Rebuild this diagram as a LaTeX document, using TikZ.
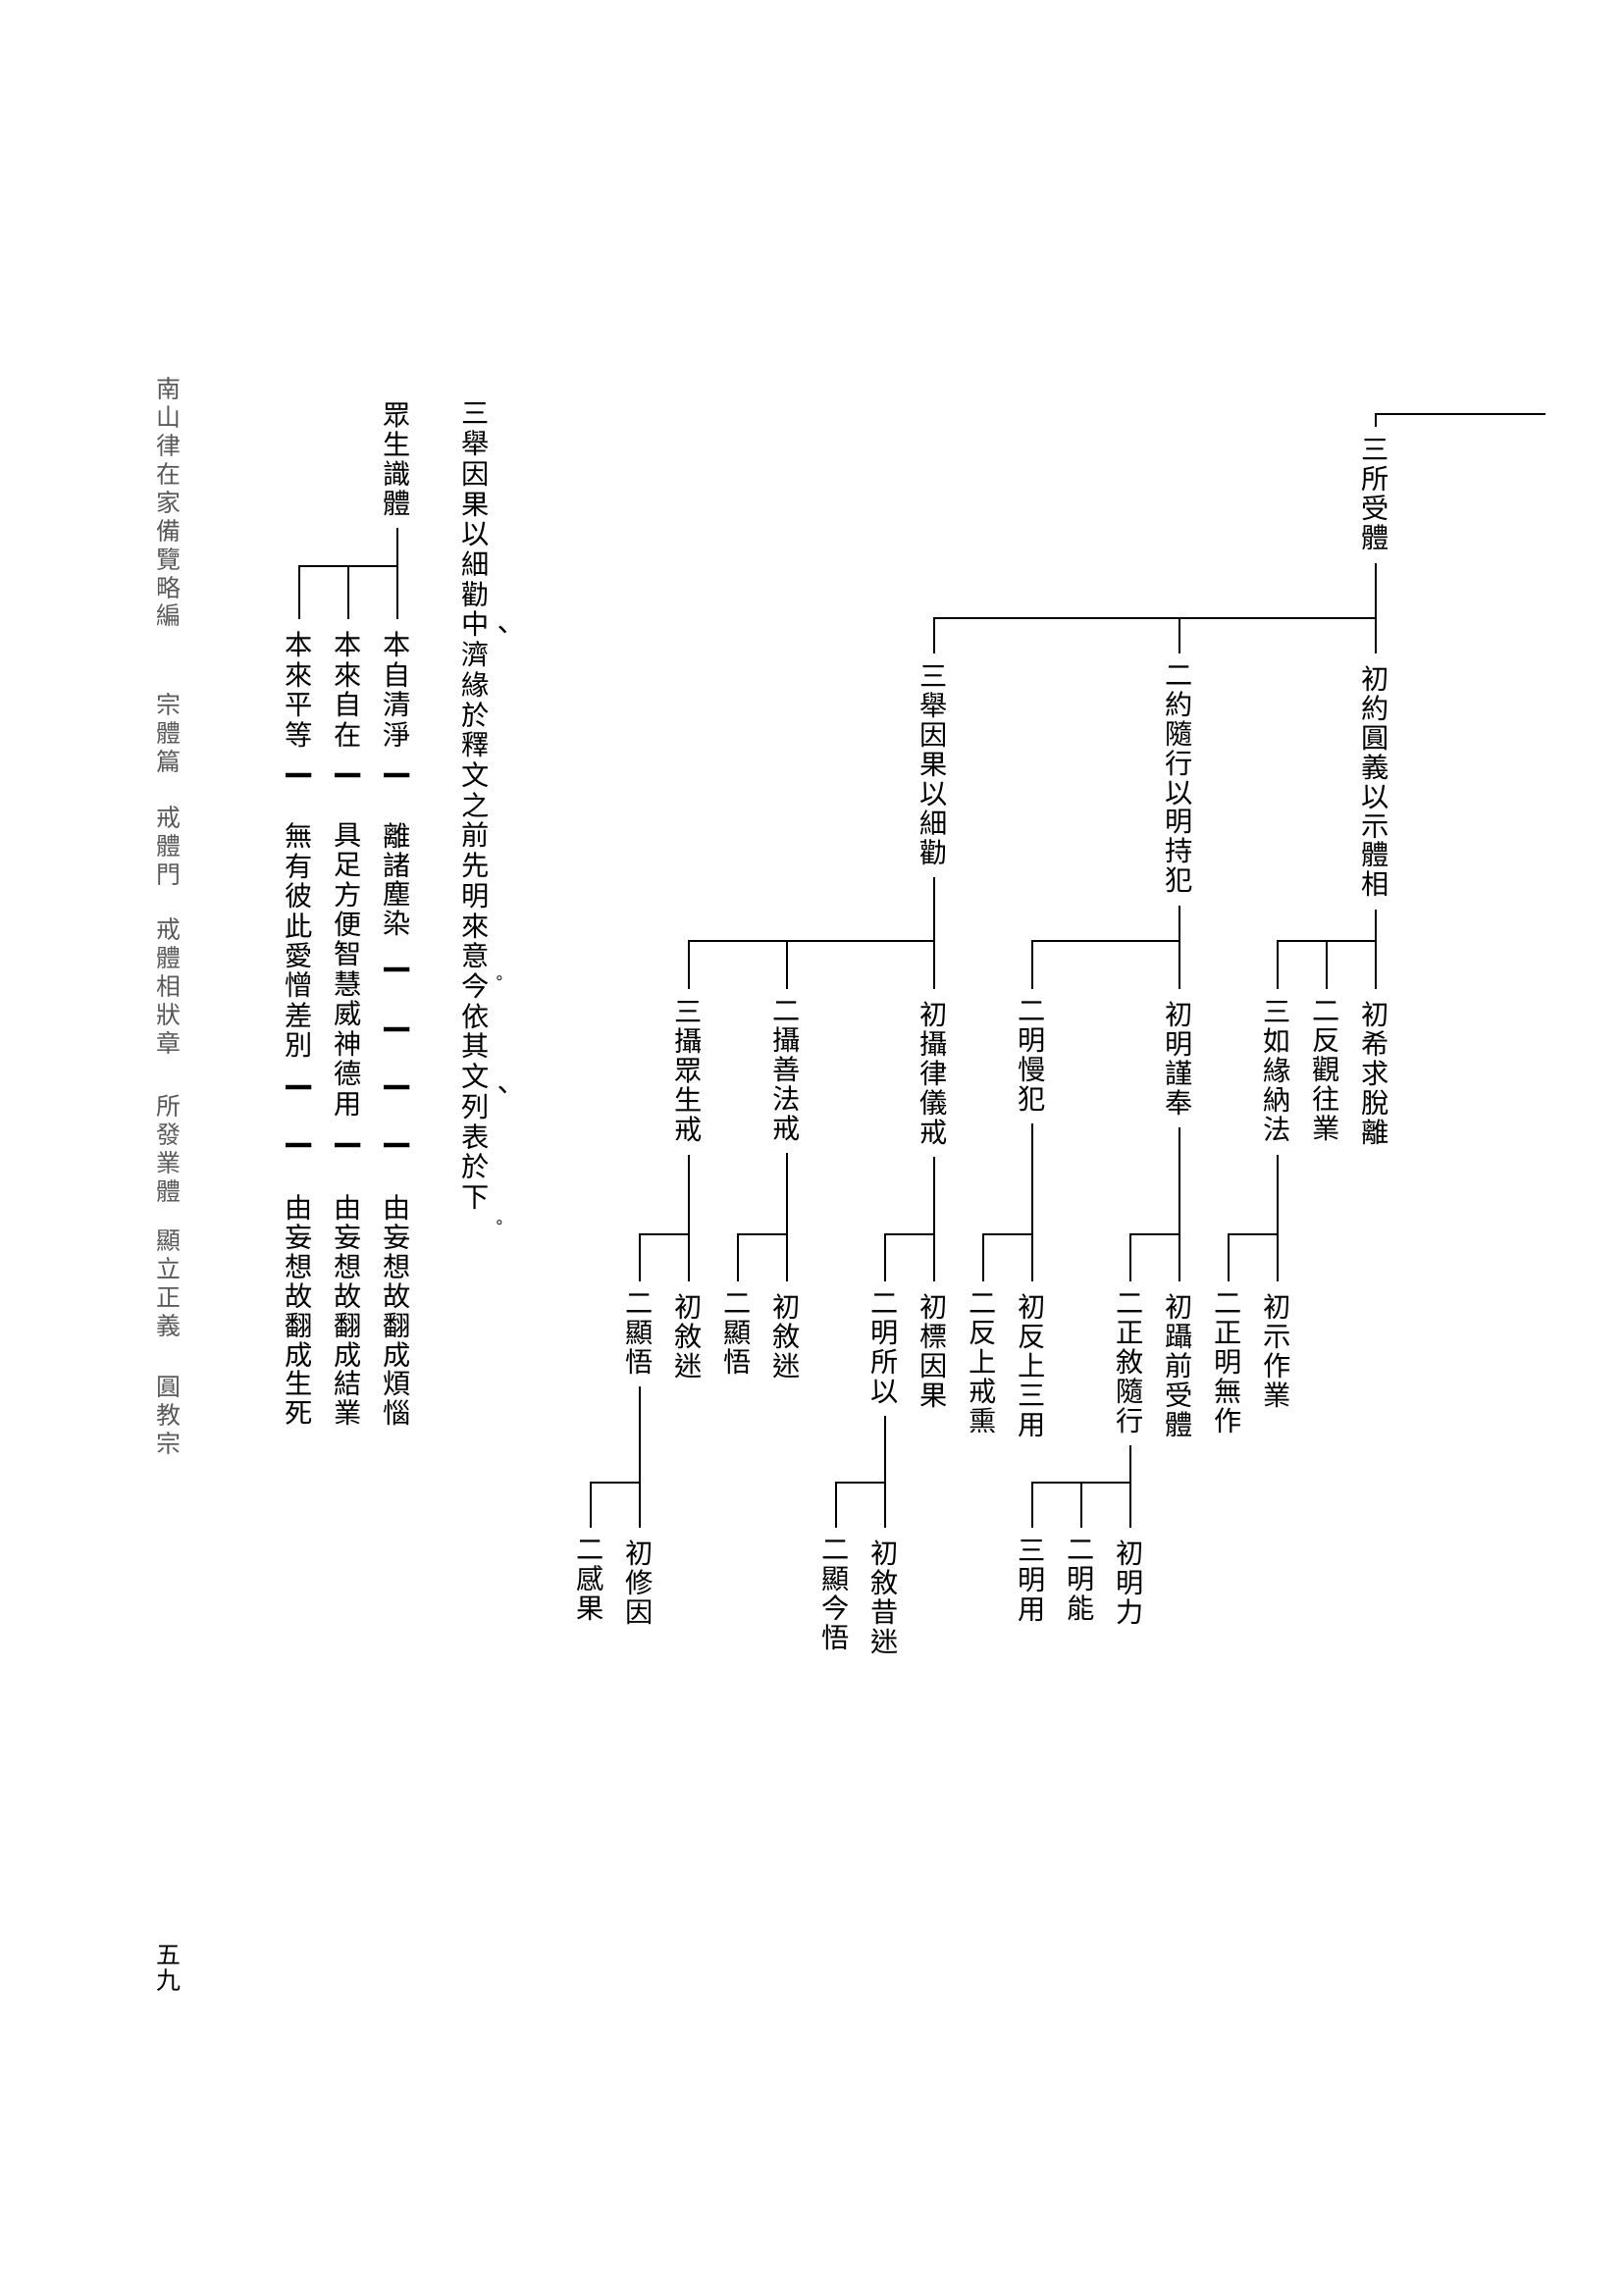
\documentclass[tikz,border=0pt]{standalone}
\usepackage{fontspec}
\newfontfamily\cjk{Noto Sans CJK TC}
\usepackage{tikz}
\definecolor{footgray}{gray}{0.35}
% one character per line, top to bottom
\def\vtextend{}
\def\vtextstep#1{\ifx#1\vtextend\else\hbox to 1em{\hss#1\hss}\expandafter\vtextstep\fi}
\newcommand\vtext[1]{\vbox{\lineskiplimit=-\maxdimen\lineskip=0pt\vtextstep#1\vtextend}}

\begin{document}
\begin{tikzpicture}[x=0.127mm, y=-0.127mm, line width=0.7pt,
    lbl/.style={font=\cjk\fontsize{10.2}{#1}\selectfont, inner xsep=0pt, inner ysep=4.3pt, anchor=north},
    lbl/.default=10.8pt]
    \tikzstyle{bar}=[font=\cjk\bfseries\fontsize{10.2}{10.8}\selectfont, inner sep=0pt]
    \tikzstyle{punct}=[font=\cjk\fontsize{10.2}{10.8}\selectfont, inner sep=0pt]
    \tikzstyle{foot}=[lbl=10.44pt, font=\cjk\fontsize{9}{10.44}\selectfont, text=footgray]
    \useasboundingbox (0,0) rectangle (1654,2339);
    \coordinate (j1) at (0,630);
    \coordinate (j2) at (0,959);
    \coordinate (j3) at (0,1258);
    \coordinate (j4) at (0,1511);
    \coordinate (jz) at (0,577);
    \coordinate (tr) at (1575,422);

    % tree
    \node[lbl] (n0) at (1402,435) {\vtext{三所受體}};
    \node[lbl] (a) at (1402,666) {\vtext{初約圓義以示體相}};
    \node[lbl] (b) at (1202,666) {\vtext{二約隨行以明持犯}};
    \node[lbl] (c) at (952,666) {\vtext{三舉因果以細勸}};

    \node[lbl] (a1) at (1402,1008) {\vtext{初希求脫離}};
    \node[lbl] (a2) at (1352,1008) {\vtext{二反觀往業}};
    \node[lbl] (a3) at (1302,1008) {\vtext{三如緣納法}};
    \node[lbl] (b1) at (1202,1008) {\vtext{初明謹奉}};
    \node[lbl] (b2) at (1052,1008) {\vtext{二明慢犯}};
    \node[lbl] (c1) at (952,1008) {\vtext{初攝律儀戒}};
    \node[lbl] (c2) at (802,1008) {\vtext{二攝善法戒}};
    \node[lbl] (c3) at (702,1008) {\vtext{三攝眾生戒}};

    \node[lbl] (a31) at (1302,1306) {\vtext{初示作業}};
    \node[lbl] (a32) at (1252,1306) {\vtext{二正明無作}};
    \node[lbl] (b11) at (1202,1306) {\vtext{初躡前受體}};
    \node[lbl] (b12) at (1152,1306) {\vtext{二正敘隨行}};
    \node[lbl] (b21) at (1052,1306) {\vtext{初反上三用}};
    \node[lbl] (b22) at (1002,1306) {\vtext{二反上戒熏}};
    \node[lbl] (c11) at (952,1306) {\vtext{初標因果}};
    \node[lbl] (c12) at (902,1306) {\vtext{二明所以}};
    \node[lbl] (c21) at (802,1306) {\vtext{初敘迷}};
    \node[lbl] (c22) at (752,1306) {\vtext{二顯悟}};
    \node[lbl] (c31) at (702,1306) {\vtext{初敘迷}};
    \node[lbl] (c32) at (652,1306) {\vtext{二顯悟}};

    \node[lbl] (b121) at (1152,1557) {\vtext{初明力}};
    \node[lbl] (b122) at (1102,1557) {\vtext{二明能}};
    \node[lbl] (b123) at (1052,1557) {\vtext{三明用}};
    \node[lbl] (c121) at (902,1557) {\vtext{初敘昔迷}};
    \node[lbl] (c122) at (852,1557) {\vtext{二顯今悟}};
    \node[lbl] (c321) at (652,1557) {\vtext{初修因}};
    \node[lbl] (c322) at (602,1557) {\vtext{二感果}};

    \draw (tr) -| (n0.north);
    \draw (n0.south) -- (a.north);
    \draw (j1 -| n0) -| (c.north);
    \draw (j1 -| b) -- (b.north);

    \draw (a.south) -- (a1.north);
    \draw (j2 -| a) -| (a3.north);
    \draw (j2 -| a2) -- (a2.north);
    \draw (b.south) -- (b1.north);
    \draw (j2 -| b) -| (b2.north);
    \draw (c.south) -- (c1.north);
    \draw (j2 -| c) -| (c3.north);
    \draw (j2 -| c2) -- (c2.north);

    \draw (a3.south) -- (a31.north);
    \draw (j3 -| a3) -| (a32.north);
    \draw (b1.south) -- (b11.north);
    \draw (j3 -| b1) -| (b12.north);
    \draw (b2.south) -- (b21.north);
    \draw (j3 -| b2) -| (b22.north);
    \draw (c1.south) -- (c11.north);
    \draw (j3 -| c1) -| (c12.north);
    \draw (c2.south) -- (c21.north);
    \draw (j3 -| c2) -| (c22.north);
    \draw (c3.south) -- (c31.north);
    \draw (j3 -| c3) -| (c32.north);

    \draw (b12.south) -- (b121.north);
    \draw (j4 -| b12) -| (b123.north);
    \draw (j4 -| b122) -- (b122.north);
    \draw (c12.south) -- (c121.north);
    \draw (j4 -| c12) -| (c122.north);
    \draw (c32.south) -- (c321.north);
    \draw (j4 -| c32) -| (c322.north);

    % heading and table
    \node[lbl=11.1pt] (hdr) at (485,398) {\vtext{三舉因果以細勸中濟緣於釋文之前先明來意今依其文列表於下}};
    \node[punct] (p1) at (513,645) {、};
    \node[punct, font=\cjk\fontsize{6}{6}\selectfont] (p2) at (509,999) {。};
    \node[punct] (p3) at (513,1114) {、};
    \node[punct, font=\cjk\fontsize{6}{6}\selectfont] (p4) at (509,1248) {。};

    \node[lbl] (zs) at (405,398) {\vtext{眾生識體}};
    \node[lbl=11.05pt] (r1) at (405,631) {\vtext{本自清淨}};
    \node[lbl=11.05pt] (r2) at (355,631) {\vtext{本來自在}};
    \node[lbl=11.05pt] (r3) at (305,631) {\vtext{本來平等}};
    \draw (zs.south) -- (r1.north);
    \draw (jz -| zs) -| (r3.north);
    \draw (jz -| r2) -- (r2.north);

    \node[bar] (d11) at (405,795) {一};
    \node[bar] (d21) at (355,795) {一};
    \node[bar] (d31) at (305,795) {一};
    \node[lbl=10.7pt] (m1) at (405,826) {\vtext{離諸塵染}};
    \node[lbl=11pt] (m2) at (355,826) {\vtext{具足方便智慧威神德用}};
    \node[lbl=11pt] (m3) at (305,826) {\vtext{無有彼此愛憎差別}};
    \node[bar] (d12) at (405,993) {一};
    \node[bar] (d13) at (405,1054) {一};
    \node[bar] (d14) at (405,1113) {一};
    \node[bar] (d15) at (405,1172) {一};
    \node[bar] (d22) at (355,1172) {一};
    \node[bar] (d32) at (305,1113) {一};
    \node[bar] (d33) at (305,1172) {一};
    \node[lbl] (e1) at (405,1205) {\vtext{由妄想故翻成煩惱}};
    \node[lbl] (e2) at (355,1205) {\vtext{由妄想故翻成結業}};
    \node[lbl] (e3) at (305,1205) {\vtext{由妄想故翻成生死}};

    % running head and page number
    \node[foot] (f1) at (172,372) {\vtext{南山律在家備覽略編}};
    \node[foot] (f2) at (172,694) {\vtext{宗體篇}};
    \node[foot] (f3) at (172,809) {\vtext{戒體門}};
    \node[foot] (f4) at (172,923) {\vtext{戒體相狀章}};
    \node[foot] (f5) at (172,1103) {\vtext{所發業體}};
    \node[foot] (f6) at (172,1241) {\vtext{顯立正義}};
    \node[foot] (f7) at (172,1390) {\vtext{圓教宗}};
    \node[lbl, font=\cjk\fontsize{9}{9.4}\selectfont] (pg) at (172,1970) {\vtext{五九}};
\end{tikzpicture}
\end{document}
